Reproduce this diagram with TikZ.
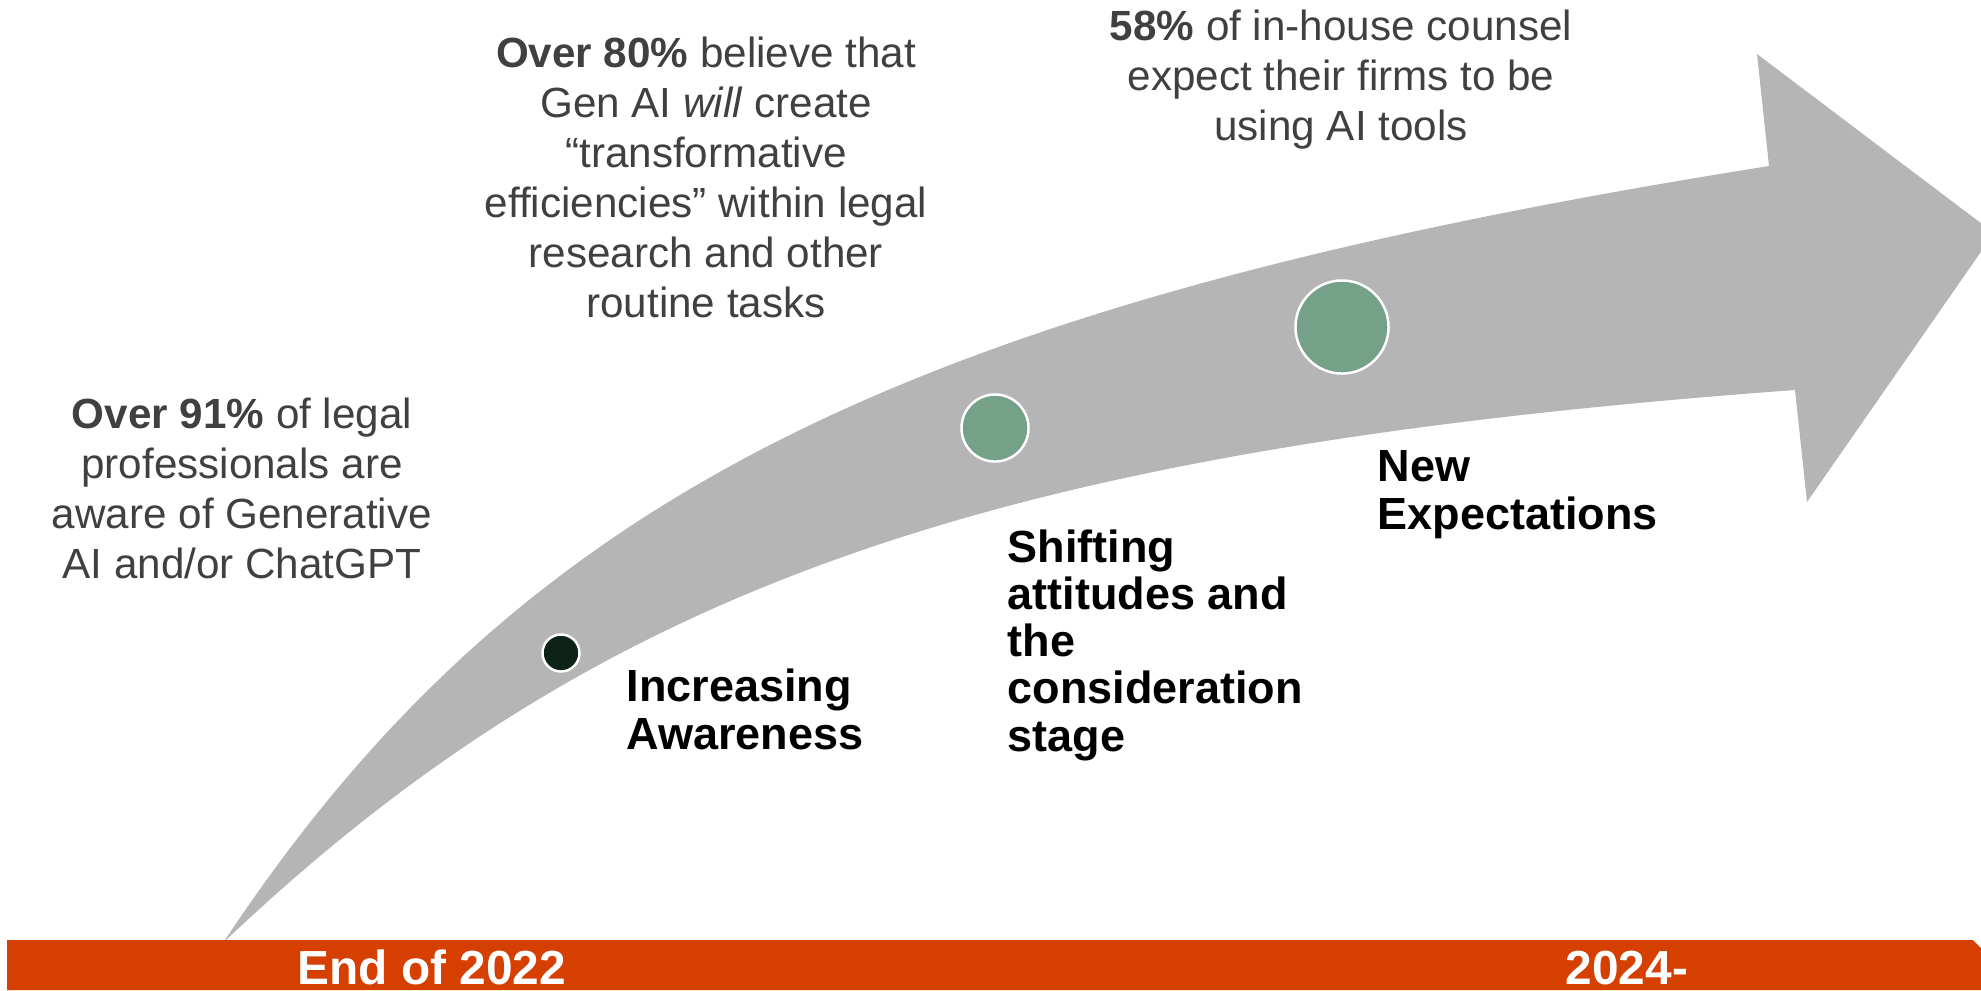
\documentclass[tikz,border=0pt]{standalone}
\usepackage{fontspec}
\setmainfont{Liberation Sans}
\usepackage{tikz}

\definecolor{arrowgray}{RGB}{180,181,180}
\definecolor{barorange}{RGB}{213,64,0}
\definecolor{sage}{RGB}{116,161,135}
\definecolor{darkdot}{RGB}{13,35,24}
\definecolor{bodygray}{RGB}{64,64,64}

\tikzset{
	fact/.style={align=center, inner sep=0pt, anchor=base, text=bodygray,
		font=\fontsize{12}{14.2}\selectfont},
	stage/.style={align=left, inner sep=0pt, anchor=base west, text=black,
		font=\fontsize{12.8}{13.4}\selectfont\bfseries},
	year/.style={inner sep=0pt, anchor=base west, text=white,
		font=\fontsize{13.6}{15}\selectfont\bfseries},
	dot/.style={circle, inner sep=0pt, draw=white, line width=0.7pt}
}

\begin{document}
\begin{tikzpicture}[x=0.01cm, y=-0.01cm]

	\useasboundingbox (0,0) rectangle (1981,990);
	\clip (0,0) rectangle (1981,990);

	% curved arrow
	\fill[arrowgray] (225,940) .. controls (519,497) and (905,303) .. (1769,166)
		-- (1757,54) -- (1994,233) -- (1807,502) -- (1795,390)
		.. controls (991,449) and (599,587) .. (226,940) -- cycle;

	% time bar
	\fill[barorange] (7,940) -- (1973,940) -- (1981,948) -- (1981,990) -- (7,990) -- cycle;
	\node[year] (y1) at (297,984) {End of 2022};
	\node[year] (y2) at (1565,984) {2024-};

	% milestones
	\foreach \n/\x/\y/\d/\c in {
		m1/561/653/0.37cm/darkdot,
		m2/995/428/0.67cm/sage,
		m3/1342/327/0.93cm/sage}
	{
		\node[dot, fill=\c, minimum size=\d] (\n) at (\x,\y) {};
	};

	% stage labels (anchored on their last line)
	\node[stage] (s1) at (626,749) {Increasing\\Awareness};
	\node[stage] (s2) at (1007,751) {Shifting\\attitudes and\\the\\consideration\\stage};
	\node[stage] (s3) at (1377,529) {New\\Expectations};

	\node[fact] (f1) at (242,578) {\textbf{Over 91\%} of legal\\professionals are\\aware of Generative\\AI and/or ChatGPT};
	\node[fact] (f2) at (706,317) {\textbf{Over 80\%} believe that\\Gen AI \textit{will} create\\“transformative\\efficiencies” within legal\\research and other\\routine tasks};
	\node[fact] (f3) at (1341,140) {\textbf{58\%} of in-house counsel\\expect their firms to be\\using AI tools};

\end{tikzpicture}
\end{document}
